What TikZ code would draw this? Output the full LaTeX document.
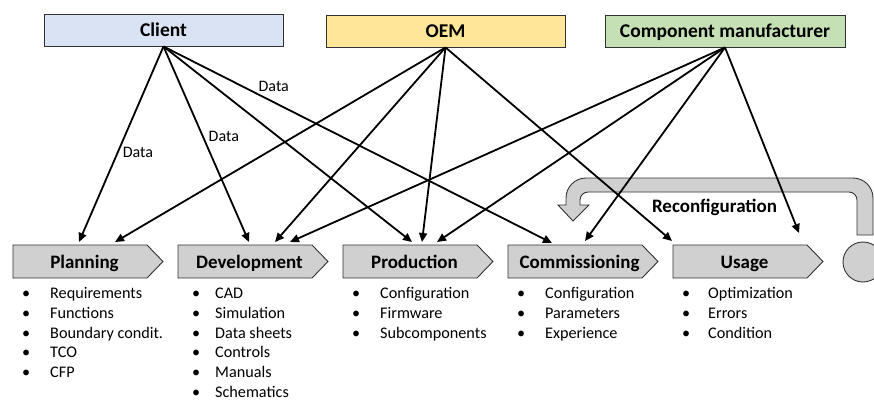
\documentclass[tikz,border=0pt]{standalone}
\usepackage{fontspec}
\setmainfont{Carlito}
\usetikzlibrary{arrows.meta}
\definecolor{clientfill}{RGB}{218,227,243}
\definecolor{oemfill}{RGB}{255,230,153}
\definecolor{cmfill}{RGB}{197,224,180}
\definecolor{chevfill}{RGB}{208,208,208}
\definecolor{edgecol}{RGB}{50,50,50}
\newcommand{\itemlist}[2]{\begin{tabular}[t]{@{}p{#1}@{}l@{}}#2\end{tabular}}
\begin{document}
\begin{tikzpicture}[x=1pt,y=-1pt,
  actor/.style={draw=edgecol, line width=0.9pt, minimum width=239pt, minimum height=32pt, inner sep=0pt, text height=15pt, text depth=2pt, font=\fontsize{19.5}{22}\selectfont\bfseries},
  phase/.style={font=\fontsize{19}{22}\selectfont\bfseries, inner sep=0pt, anchor=base},
  chev/.style={draw=edgecol, line width=0.9pt, fill=chevfill},
  flow/.style={line width=1.8pt, -{Triangle[length=9pt,width=8pt]}},
  datalbl/.style={font=\fontsize{16}{18}\selectfont, inner sep=1pt},
  lst/.style={font=\fontsize{16.2}{19.8}\selectfont, inner sep=0pt, anchor=base west}]

\useasboundingbox (0,0) rectangle (874,400);

% actors
\node[actor, fill=clientfill] (client) at (163.5,30) {Client};
\node[actor, fill=oemfill] (oem) at (445.5,31) {OEM};
\node[actor, fill=cmfill, minimum width=240pt] (cm) at (725,31) {Component manufacturer};

% phases
\foreach \l in {13,178,343,508,673}
  \draw[chev] (\l,245) -- (\l+134,245) -- (\l+150,261.5) -- (\l+134,278) -- (\l,278) -- cycle;
\draw[chev] (863,262) circle (20pt);

\node[phase] (plan) at (84.5,268) {Planning};
\node[phase] (dev) at (249.5,268) {Development};
\node[phase] (prod) at (414.5,268) {Production};
\node[phase] (comm) at (579.5,268) {Commissioning};
\node[phase] (use) at (744.5,268) {Usage};

% reconfiguration arrow
\draw[chev] (873,235) -- (873,198) .. controls (873,186.95) and (864.05,178) .. (853,178)
  -- (586,178) .. controls (574.95,178) and (566,186.95) .. (566,198)
  -- (566,205) -- (558,205) -- (573,221) -- (589,205) -- (580,205)
  -- (580,200) .. controls (580,195.6) and (583.6,192) .. (588,192)
  -- (849,192) .. controls (853.4,192) and (857,195.6) .. (857,200)
  -- (857,235) -- cycle;
\node[phase] (reconf) at (714.5,212.5) {Reconfiguration};

% arrow targets
\coordinate (pA) at (79,242);
\coordinate (pB) at (115,242);
\coordinate (dA) at (249,242);
\coordinate (dB) at (275,242);
\coordinate (dC) at (290,242);
\coordinate (rA) at (412,242);
\coordinate (rB) at (422,242);
\coordinate (rC) at (437,242);
\coordinate (cA) at (552,243);
\coordinate (cB) at (585,241);
\coordinate (uA) at (672,241);
\coordinate (uB) at (799,233);

% connectors
\draw[flow] (client.south) -- node[datalbl, pos=0.54, anchor=west, xshift=3pt] {Data} (pA);
\draw[flow] (client.south) -- node[datalbl, pos=0.46, anchor=west, xshift=4pt] {Data} (dA);
\draw[flow] (client.south) -- (rA);
\draw[flow] (client.south) -- node[datalbl, pos=0.24, anchor=south west] {Data} (cA);

\draw[flow] (oem.south) -- (pB);
\draw[flow] (oem.south) -- (dB);
\draw[flow] (oem.south) -- (rB);
\draw[flow] (oem.south) -- (uA);

\draw[flow] (cm.south) -- (dC);
\draw[flow] (cm.south) -- (rC);
\draw[flow] (cm.south) -- (cB);
\draw[flow] (cm.south) -- (uB);

% lists
\node[lst] (lplan) at (22,298.5) {\itemlist{28pt}{•&Requirements\\•&Functions\\•&Boundary condit.\\•&TCO\\•&CFP}};
\node[lst] (ldev) at (192,298.5) {\itemlist{23pt}{•&CAD\\•&Simulation\\•&Data sheets\\•&Controls\\•&Manuals\\•&Schematics}};
\node[lst] (lprod) at (352,298.5) {\itemlist{28pt}{•&Configuration\\•&Firmware\\•&Subcomponents}};
\node[lst] (lcomm) at (517,298.5) {\itemlist{28pt}{•&Configuration\\•&Parameters\\•&Experience}};
\node[lst] (luse) at (682,298.5) {\itemlist{26pt}{•&Optimization\\•&Errors\\•&Condition}};
\end{tikzpicture}
\end{document}
